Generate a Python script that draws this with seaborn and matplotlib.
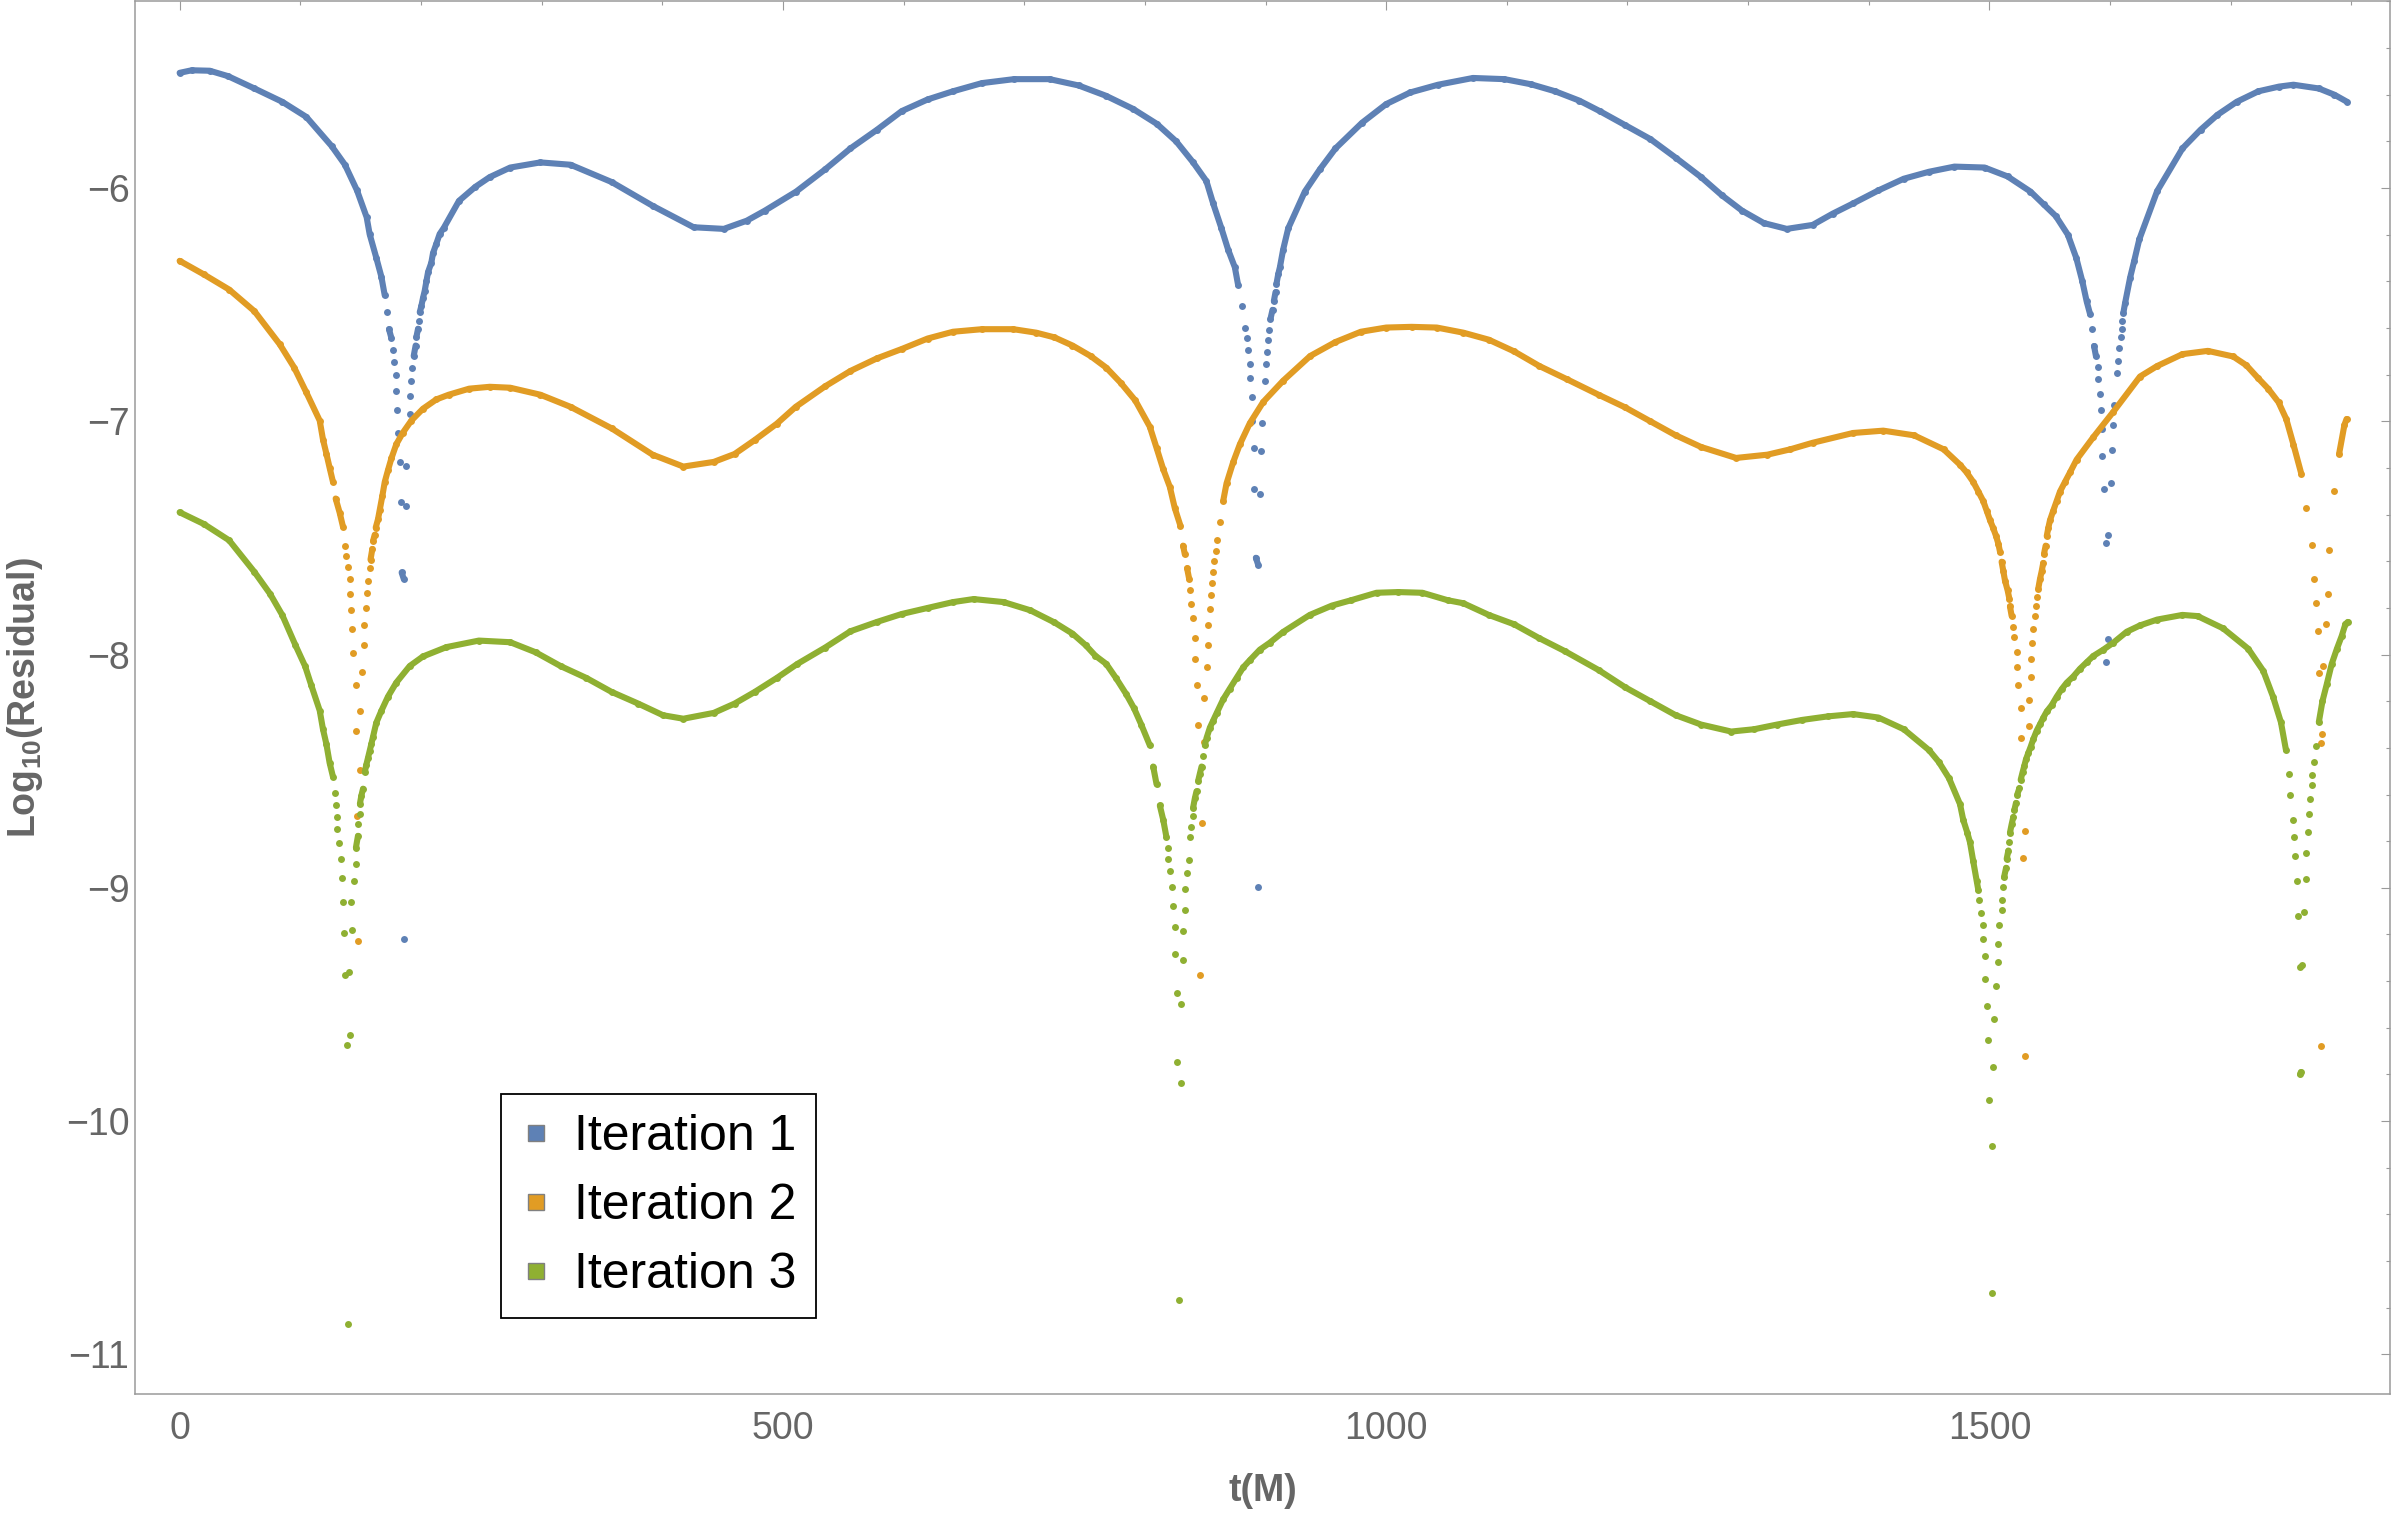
import matplotlib
matplotlib.use("Agg")
import matplotlib.pyplot as plt
import seaborn as sns
import pandas as pd
from matplotlib.lines import Line2D
from matplotlib.ticker import MultipleLocator

# ---------------- data ----------------
series_names = ["Iteration 1", "Iteration 2", "Iteration 3"]
series_colors = ["#5E81B5", "#E19C24", "#8FB032"]

iteration1 = [
    (0, -5.506), (10, -5.495), (25, -5.497), (40, -5.52), (62, -5.573), (85, -5.63),
    (105, -5.695), (126, -5.82), (137, -5.90), (147, -6.01), (155, -6.125), (157.5, -6.198),
    (163, -6.299), (167.2, -6.38), (170, -6.46), (171.9, -6.532), (173.5, -6.605), (175.5, -6.643),
    (176.8, -6.693), (177.4, -6.744), (179.1, -6.80), (179.3, -6.871), (180.4, -6.952), (180.6, -7.051),
    (182.4, -7.175), (183.8, -7.345), (184, -7.648), (185.7, -7.675), (185.9, -9.218), (187.3, -7.363),
    (187.5, -7.193), (190.7, -6.967), (190.9, -6.89), (192.1, -6.825), (192.9, -6.77), (194, -6.72),
    (195.6, -6.675), (196.2, -6.639), (197.6, -6.603), (198.4, -6.568), (199, -6.532), (200.3, -6.507),
    (201.7, -6.471), (203.1, -6.441), (204.5, -6.40), (205.9, -6.36), (208.6, -6.32), (210, -6.279),
    (212.8, -6.238), (215.5, -6.197), (219, -6.17), (231.5, -6.055), (245, -5.995), (257, -5.953),
    (274, -5.912), (299, -5.89), (324, -5.90), (358, -5.974), (392, -6.076), (426, -6.168),
    (451, -6.175), (470, -6.14), (485, -6.097), (511, -6.015), (535, -5.92), (556, -5.83),
    (578, -5.75), (598.5, -5.67), (620, -5.62), (641, -5.585), (665, -5.55), (691.5, -5.533),
    (721, -5.533), (745, -5.56), (767.6, -5.604), (790, -5.66), (810, -5.725), (826, -5.80),
    (840, -5.89), (851, -5.97), (856.6, -6.066), (863.5, -6.173), (869, -6.264), (874.6, -6.34),
    (877.3, -6.416), (880.1, -6.507), (882.9, -6.598), (884.3, -6.643), (885.6, -6.695), (887, -6.756),
    (887.2, -6.816), (888.4, -6.895), (888.6, -6.999), (890.3, -7.114), (890.5, -7.29), (892, -7.585),
    (893.9, -7.615), (894.1, -8.996), (895.3, -7.311), (895.9, -7.129), (897.5, -7.008), (899.4, -6.826),
    (900.8, -6.756), (901, -6.704), (902.2, -6.65), (903, -6.607), (904.1, -6.561), (905.8, -6.522),
    (906.9, -6.485), (908.3, -6.446), (909.1, -6.41), (910.5, -6.37), (911.9, -6.34), (914.6, -6.264),
    (918.8, -6.173), (932.6, -6.015), (945, -5.92), (958, -5.83), (980, -5.72), (1000, -5.64),
    (1020, -5.59), (1043, -5.557), (1072, -5.528), (1098, -5.533), (1120, -5.555), (1140, -5.585),
    (1160, -5.625), (1177, -5.67), (1198, -5.73), (1219, -5.79), (1240, -5.87), (1261, -5.953),
    (1278, -6.03), (1295, -6.097), (1313, -6.15), (1332, -6.175), (1353.5, -6.158), (1370, -6.11),
    (1387, -6.066), (1408, -6.01), (1429, -5.96), (1450, -5.93), (1471, -5.908), (1496, -5.912),
    (1515, -5.95), (1534, -6.015), (1545, -6.07), (1555, -6.12), (1565, -6.20), (1572, -6.30),
    (1577, -6.40), (1580.6, -6.486), (1583.4, -6.54), (1584.7, -6.603), (1586.7, -6.677), (1588.3, -6.721),
    (1589.7, -6.765), (1589.9, -6.819), (1591.6, -6.882), (1592.2, -6.952), (1593.3, -7.033),
    (1593.5, -7.148), (1594.9, -7.292), (1596.6, -7.522), (1596.7, -8.033), (1598.5, -7.935),
    (1598.6, -7.489), (1600.5, -7.265), (1601.9, -7.123), (1602.1, -7.016), (1603.5, -6.931),
    (1605.5, -6.792), (1606.6, -6.74), (1607.7, -6.685), (1609.1, -6.639), (1609.6, -6.603),
    (1610.1, -6.568), (1611, -6.535), (1612.4, -6.494), (1616.6, -6.384), (1620, -6.312),
    (1624.2, -6.22), (1639, -6.013), (1660, -5.83), (1675, -5.75), (1689, -5.686), (1705, -5.63),
    (1723, -5.585), (1740, -5.565), (1752, -5.557), (1773, -5.573), (1786, -5.60), (1796, -5.629),
]

iteration2 = [
    (0, -6.312), (20, -6.37), (41, -6.435), (62, -6.528), (83, -6.67), (95, -6.77),
    (105, -6.876), (116.1, -6.997), (118.8, -7.078), (121.6, -7.138), (124.3, -7.199), (127.1, -7.26),
    (129.3, -7.331), (132.6, -7.391), (135.4, -7.452), (136.8, -7.533), (138.2, -7.577), (139.5, -7.624),
    (140.9, -7.675), (141.2, -7.739), (142.3, -7.808), (142.9, -7.889), (143.7, -7.994), (145.9, -8.13),
    (146.1, -8.326), (147, -8.692), (147.8, -9.228), (149.2, -8.494), (149.4, -8.241), (151.1, -8.075),
    (152.8, -7.96), (153, -7.873), (154.7, -7.80), (154.9, -7.737), (156.4, -7.684), (158, -7.63),
    (158.2, -7.593), (159.7, -7.547), (160.3, -7.513), (161.7, -7.486), (162.5, -7.456), (164.4, -7.42),
    (165.8, -7.381), (168, -7.32), (170, -7.26), (172.7, -7.209), (175.5, -7.159), (179.6, -7.098),
    (185.1, -7.048), (192, -6.997), (201.7, -6.946), (212.8, -6.906), (223, -6.886), (240, -6.86),
    (257, -6.852), (274, -6.856), (299, -6.886), (324, -6.938), (358, -7.03), (392, -7.143),
    (417.5, -7.194), (442.7, -7.174), (460, -7.14), (476.7, -7.08), (495, -7.01), (510.6, -6.938),
    (535, -6.85), (556, -6.784), (578, -6.73), (598.5, -6.69), (620, -6.645), (641, -6.616),
    (665, -6.605), (691, -6.605), (710, -6.62), (725, -6.64), (740, -6.675), (755, -6.72),
    (768, -6.77), (780, -6.835), (792, -6.91), (804.1, -7.023), (809.7, -7.114), (815.2, -7.205),
    (820.7, -7.281), (824.8, -7.372), (829.5, -7.448), (831.7, -7.533), (833.1, -7.57), (835, -7.63),
    (836.7, -7.675), (837.3, -7.721), (838.6, -7.782), (840, -7.843), (841.4, -7.927), (841.6, -8.018),
    (843.6, -8.131), (843.8, -8.30), (845.6, -9.373), (847, -8.72), (848.9, -8.374), (849.1, -8.186),
    (851.1, -8.055), (852.5, -7.958), (852.7, -7.873), (853.9, -7.806), (855.2, -7.745), (855.4, -7.691),
    (856.6, -7.645), (857.5, -7.60), (858.8, -7.554), (860.2, -7.509), (862.1, -7.433), (864.9, -7.342),
    (867.7, -7.266), (873.2, -7.175), (878.7, -7.099), (887, -7.008), (898.1, -6.917), (914.6, -6.826),
    (937, -6.72), (958, -6.66), (979, -6.616), (1000, -6.598), (1021, -6.595), (1042, -6.598),
    (1064, -6.62), (1085, -6.65), (1106, -6.70), (1127, -6.763), (1150, -6.82), (1176, -6.886),
    (1198, -6.94), (1219, -7.0), (1240, -7.06), (1261, -7.11), (1290, -7.157), (1316, -7.143),
    (1335, -7.12), (1353.5, -7.092), (1387, -7.05), (1412, -7.04), (1437.5, -7.06), (1462, -7.12),
    (1475.6, -7.186), (1481.1, -7.219), (1486.6, -7.26), (1490.8, -7.301), (1494.9, -7.342),
    (1497.7, -7.383), (1500.5, -7.424), (1503.2, -7.459), (1505.5, -7.492), (1507.4, -7.525),
    (1508.8, -7.56), (1510.1, -7.602), (1511.5, -7.642), (1512.9, -7.683), (1515.1, -7.725),
    (1516.5, -7.76), (1517, -7.793), (1518.4, -7.834), (1519.8, -7.88), (1520.6, -7.924),
    (1522.6, -7.99), (1522.8, -8.053), (1523.9, -8.132), (1525.9, -8.231), (1526.1, -8.356),
    (1527.5, -8.873), (1529.5, -8.755), (1529.7, -9.721), (1532.8, -8.307), (1533, -8.195),
    (1534.4, -8.097), (1534.6, -8.017), (1535.6, -7.952), (1536.4, -7.892), (1537.8, -7.834),
    (1538.6, -7.793), (1539.7, -7.752), (1540.5, -7.717), (1541.9, -7.676), (1543.3, -7.643),
    (1544.6, -7.607), (1545.2, -7.569), (1546.6, -7.533), (1547.5, -7.492), (1548.8, -7.457),
    (1550.2, -7.424), (1552.9, -7.383), (1555.7, -7.342), (1558.5, -7.301), (1562.6, -7.26),
    (1566.8, -7.219), (1572.3, -7.164), (1586.1, -7.068), (1602.7, -6.959), (1624.8, -6.808),
    (1639, -6.763), (1660, -6.712), (1681, -6.698), (1702, -6.722), (1713, -6.76), (1722.7, -6.815),
    (1731, -6.86), (1739.6, -6.918), (1746, -6.99), (1752, -7.10), (1758.5, -7.225), (1762.7, -7.37),
    (1767, -7.53), (1769, -7.675), (1771, -7.78), (1772.7, -7.90), (1773.2, -8.08), (1774.4, -9.68),
    (1775.2, -8.38), (1775.4, -8.34), (1776.5, -8.05), (1779, -7.87), (1780.4, -7.74), (1781.5, -7.55),
    (1785.7, -7.30), (1789.8, -7.14), (1794.2, -7.016), (1796, -6.99),
]

iteration3 = [
    (0, -7.39), (20, -7.44), (41, -7.51), (62, -7.646), (75, -7.74), (85, -7.83),
    (96, -7.96), (104, -8.05), (109, -8.13), (116.1, -8.24), (118.8, -8.32), (121.6, -8.383),
    (124.3, -8.464), (127.1, -8.524), (128.5, -8.595), (129.9, -8.646), (130.4, -8.696), (130.6, -8.747),
    (132.1, -8.807), (134, -8.878), (134.2, -8.959), (135.4, -9.06), (136, -9.192), (137, -9.375),
    (139, -9.675), (139.2, -10.87), (140.5, -9.36), (140.8, -9.63), (142.3, -9.06), (142.6, -9.18),
    (144.2, -8.969), (145.9, -8.898), (146.1, -8.828), (147.8, -8.777), (148, -8.726), (149.2, -8.682),
    (149.4, -8.64), (150.6, -8.605), (152, -8.575), (153.4, -8.504), (154.7, -8.473), (156.1, -8.443),
    (157.5, -8.413), (158.9, -8.383), (160.3, -8.352), (163, -8.292), (167.2, -8.241), (172.7, -8.18),
    (179.6, -8.12), (190.7, -8.049), (201.7, -8.008), (221.1, -7.968), (248, -7.94), (274, -7.947),
    (295, -7.99), (316, -8.05), (337, -8.10), (358, -8.16), (380, -8.21), (400.6, -8.26),
    (417.5, -8.275), (442.7, -8.25), (460, -8.21), (476.7, -8.16), (495, -8.10), (512, -8.04),
    (535, -7.97), (556, -7.90), (578, -7.86), (598.5, -7.826), (620, -7.80), (641, -7.775),
    (658, -7.762), (683, -7.775), (705, -7.81), (725, -7.862), (740, -7.91), (751, -7.96),
    (759, -8.005), (768, -8.04), (776, -8.10), (784.6, -8.17), (791, -8.23), (797, -8.30),
    (804.1, -8.389), (806.9, -8.48), (809.7, -8.556), (812.4, -8.647), (815.2, -8.708), (817.9, -8.783),
    (819.3, -8.829), (819.5, -8.875), (820.7, -8.926), (822.9, -8.996), (823.1, -9.078), (824.8, -9.166),
    (825, -9.284), (826.8, -9.452), (827, -9.746), (828.4, -10.766), (829.8, -9.837), (830, -9.50),
    (831.7, -9.309), (831.9, -9.184), (833.1, -9.096), (833.3, -9.005), (835.3, -8.935), (836.7, -8.881),
    (837.8, -8.783), (838.6, -8.738), (839.5, -8.692), (840, -8.656), (841.4, -8.617), (842.8, -8.586),
    (844.2, -8.541), (845.6, -8.51), (847, -8.48), (848.3, -8.434), (849.7, -8.389), (851.1, -8.358),
    (853.9, -8.313), (856.6, -8.283), (859.4, -8.252), (864.9, -8.192), (870.4, -8.146), (876, -8.10),
    (881.5, -8.055), (887, -8.024), (895.3, -7.979), (903.6, -7.949), (914.6, -7.903), (936.7, -7.83),
    (955, -7.79), (971, -7.767), (992, -7.735), (1010, -7.732), (1030, -7.735), (1051, -7.767),
    (1064, -7.78), (1085, -7.83), (1106, -7.87), (1127, -7.93), (1148, -7.985), (1176, -8.066),
    (1198, -8.14), (1219, -8.20), (1240, -8.26), (1261, -8.30), (1286, -8.33), (1305, -8.32),
    (1324, -8.30), (1345, -8.28), (1366, -8.265), (1387, -8.255), (1408, -8.27), (1429, -8.32),
    (1450, -8.41), (1458, -8.46), (1466.5, -8.53), (1475.6, -8.641), (1478.3, -8.709), (1481.7, -8.764),
    (1483.9, -8.805), (1486.6, -8.887), (1489.4, -8.969), (1490.8, -9.01), (1491.6, -9.051),
    (1492.7, -9.106), (1494.4, -9.16), (1494.9, -9.22), (1496.3, -9.292), (1496.5, -9.39),
    (1498.3, -9.508), (1498.5, -9.653), (1499.9, -9.91), (1501.9, -10.107), (1502.1, -10.738),
    (1503.2, -9.768), (1503.4, -9.562), (1505.1, -9.42), (1506.8, -9.319), (1507, -9.24),
    (1508.2, -9.16), (1510.1, -9.097), (1510.3, -9.051), (1511.5, -8.996), (1512.1, -8.955),
    (1513.8, -8.914), (1514.3, -8.876), (1515.7, -8.84), (1516.5, -8.805), (1517, -8.764),
    (1518.4, -8.728), (1519.8, -8.696), (1520.6, -8.668), (1522, -8.636), (1523.1, -8.60),
    (1524.8, -8.573), (1525.9, -8.537), (1527.5, -8.504), (1528.9, -8.477), (1530.3, -8.449),
    (1532.2, -8.422), (1534.2, -8.395), (1536.4, -8.362), (1539.2, -8.326), (1541.9, -8.299),
    (1544.6, -8.271), (1547.5, -8.244), (1551.6, -8.217), (1555.7, -8.181), (1559.9, -8.148),
    (1564, -8.121), (1569.5, -8.094), (1575, -8.061), (1580.6, -8.033), (1586.1, -8.006),
    (1594.4, -7.979), (1602.7, -7.949), (1613.8, -7.902), (1624.8, -7.875), (1639, -7.85),
    (1660, -7.83), (1672.5, -7.835), (1693.5, -7.887), (1714.5, -7.975), (1727, -8.07), (1735, -8.18),
    (1741.6, -8.29), (1745.8, -8.41), (1748, -8.51), (1749.5, -8.60), (1751.3, -8.71), (1752.5, -8.78),
    (1753.2, -8.865), (1755, -8.97), (1755.6, -9.12), (1757, -9.34), (1757.5, -9.80), (1758.1, -9.79),
    (1759, -9.33), (1760.6, -9.105), (1762, -8.96), (1762.5, -8.85), (1764, -8.76), (1764.5, -8.685),
    (1765.7, -8.62), (1767, -8.56), (1767.5, -8.515), (1769, -8.46), (1771, -8.39), (1773, -8.29),
    (1776, -8.20), (1779.6, -8.127), (1783.7, -8.04), (1788, -7.975), (1792, -7.92), (1795, -7.87),
    (1797, -7.86),
]

x_major_ticks = [0, 500, 1000, 1500]
y_major_ticks = [-11, -10, -9, -8, -7, -6]
x_label = "t(M)"
y_label = r"Log$_{\mathregular{10}}$(Residual)"

# ---------------- style ----------------
sns.set_theme(style="white")
plt.rcParams['font.family'] = ['Liberation Sans', 'DejaVu Sans']
plt.rcParams['mathtext.fontset'] = 'custom'
plt.rcParams['mathtext.rm'] = 'Liberation Sans'
plt.rcParams['mathtext.it'] = 'Liberation Sans:italic'
plt.rcParams['mathtext.bf'] = 'Liberation Sans:bold'

W, H = 2394, 1515
fig = plt.figure(figsize=(W / 100, H / 100), dpi=100)
ax = fig.add_axes([135 / W, 121 / H, 2255 / W, 1393 / H])


def build_frame(points, max_slope=0.031, max_step=0.022):
    """Split a series into runs drawn as a continuous band (where consecutive
    samples are close); isolated samples in the steep dips stay separate dots."""
    df = pd.DataFrame(points, columns=["t", "v"])
    seg = [0]
    for i in range(1, len(df)):
        dt = df.t[i] - df.t[i - 1]
        dv = abs(df.v[i] - df.v[i - 1])
        joined = dv <= max_slope * dt or dv <= max_step
        seg.append(seg[-1] if joined else seg[-1] + 1)
    df["seg"] = seg
    return df


all_series = [iteration1, iteration2, iteration3]
for k, (pts, name, col) in enumerate(zip(all_series, series_names, series_colors)):
    df = build_frame(pts)
    z = 2 + k
    sns.lineplot(data=df, x="t", y="v", units="seg", estimator=None, sort=False,
                 color=col, linewidth=4.4, ax=ax, legend=False, zorder=z,
                 solid_capstyle="round", solid_joinstyle="round")
    sns.scatterplot(data=df, x="t", y="v", color=col, s=25, linewidth=0,
                    ax=ax, legend=False, zorder=z + 0.5)

ax.set_xlim(-37, 1832)
ax.set_ylim(-11.17, -5.198)
ax.set_xticks(x_major_ticks)
ax.set_yticks(y_major_ticks)
ax.xaxis.set_minor_locator(MultipleLocator(100))
ax.yaxis.set_minor_locator(MultipleLocator(0.2))

frame_col = "#9a9a9a"
label_col = "#666666"
for sp in ax.spines.values():
    sp.set_color(frame_col)
    sp.set_linewidth(1.1)
ax.tick_params(which="both", direction="in", top=True, right=True,
               color=frame_col, labelcolor=label_col, labelsize=27, width=0.8)
ax.tick_params(which="major", length=6.3)
ax.tick_params(which="minor", length=3.2)
ax.tick_params(axis="x", pad=12.5)
ax.tick_params(axis="y", pad=4)

ax.set_xlabel(x_label, fontsize=27, fontweight="bold", color=label_col)
ax.set_ylabel(y_label, fontsize=27, fontweight="bold", color=label_col)
ax.xaxis.set_label_coords(0.5, -0.057)
ax.yaxis.set_label_coords(-0.040, 0.5)

handles = [Line2D([0], [0], marker="s", linestyle="", markersize=12,
                  markerfacecolor=c, markeredgecolor="#808080", markeredgewidth=1.0)
           for c in series_colors]
leg = ax.legend(handles, series_names, loc="upper left",
                bbox_to_anchor=(501 / W, 1 - 1094 / H), bbox_transform=fig.transFigure,
                fontsize=36, frameon=True, fancybox=False, edgecolor="black",
                framealpha=1, borderpad=0.4, handlelength=0.6, handletextpad=0.45,
                labelspacing=0.46, borderaxespad=0)
leg.get_frame().set_linewidth(1.3)
for txt in leg.get_texts():
    txt.set_color("black")

fig.savefig("out.png", dpi=100)
